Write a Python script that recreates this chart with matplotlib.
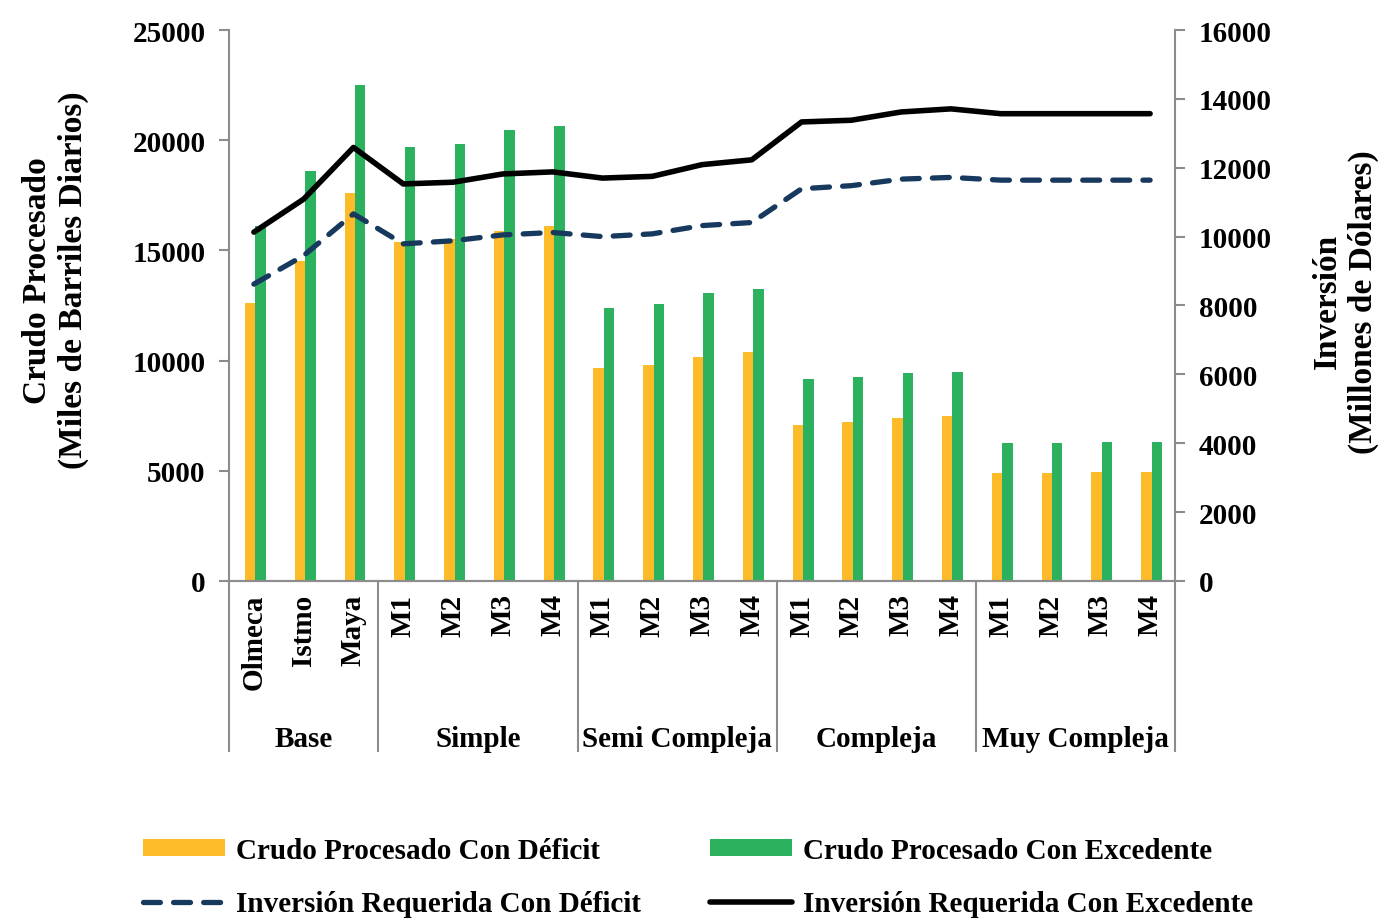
import matplotlib
matplotlib.use('Agg')
import matplotlib.pyplot as plt
import matplotlib.transforms as mtransforms
from matplotlib.lines import Line2D
from matplotlib.patches import Patch
import numpy as np

# categories and groups
categories = ['Olmeca', 'Istmo', 'Maya',
              'M1', 'M2', 'M3', 'M4',
              'M1', 'M2', 'M3', 'M4',
              'M1', 'M2', 'M3', 'M4',
              'M1', 'M2', 'M3', 'M4']
groups = ['Base', 'Simple', 'Semi Compleja', 'Compleja', 'Muy Compleja']
group_sizes = [3, 4, 4, 4, 4]

# left axis: crude processed (thousand barrels per day)
crudo_deficit = [12600, 14500, 17600, 15400, 15500, 15900, 16100,
                 9650, 9800, 10150, 10400, 7100, 7200, 7400, 7500,
                 4900, 4900, 4950, 4950]
crudo_excedente = [16100, 18600, 22500, 19700, 19850, 20450, 20650,
                   12400, 12550, 13050, 13250, 9150, 9250, 9450, 9500,
                   6250, 6250, 6300, 6300]

# right axis: investment (million dollars)
inv_deficit = [8620, 9450, 10660, 9790, 9880, 10050, 10120,
               10000, 10080, 10320, 10410, 11390, 11480, 11670, 11720,
               11640, 11640, 11640, 11640]
inv_excedente = [10130, 11090, 12590, 11530, 11580, 11820, 11880,
                 11700, 11750, 12090, 12230, 13330, 13380, 13620, 13710,
                 13570, 13570, 13570, 13570]

orange = '#FDBB2A'
green = '#2CB25F'
navy = '#18395E'
grey = '#8C8C8C'
fs = 21

plt.rcParams['font.family'] = 'Liberation Serif'
plt.rcParams['font.weight'] = 'bold'
plt.rcParams['font.size'] = fs

fig = plt.figure(figsize=(13.93, 9.2), dpi=100)
ax = fig.add_axes([0.1644, 0.3674, 0.6791, 0.5989])
ax2 = ax.twinx()

x = np.arange(len(categories))
w = 0.21
ax.bar(x - 0.075, crudo_deficit, w, color=orange, zorder=2)
ax.bar(x + 0.135, crudo_excedente, w, color=green, zorder=2)

ax2.plot(x, inv_deficit, color=navy, lw=3.8, linestyle=(0, (3.2, 2.5)),
         dash_capstyle='round', solid_joinstyle='round', zorder=3)
ax2.plot(x, inv_excedente, color='black', lw=4,
         solid_capstyle='round', solid_joinstyle='round', zorder=3)

ax.set_xlim(-0.5, len(categories) - 0.5)
ax.set_ylim(0, 25000)
ax2.set_ylim(0, 16000)
ax.set_yticks(range(0, 25001, 5000))
ax2.set_yticks(range(0, 16001, 2000))

for a in (ax, ax2):
    for s in a.spines.values():
        s.set_color(grey)
        s.set_linewidth(1.5)
    a.spines['top'].set_visible(False)
    a.tick_params(axis='y', colors=grey, length=7, width=1.5, pad=10,
                  labelcolor='black', labelsize=fs)
ax.spines['right'].set_visible(False)
ax2.spines['left'].set_visible(False)

ax.set_xticks(x)
ax.set_xticklabels(categories, rotation=90, va='top', ha='center')
ax.tick_params(axis='x', length=0, pad=9, labelsize=fs)

# group labels and separators under the axis
trans = mtransforms.blended_transform_factory(ax.transData, ax.transAxes)
edges = np.concatenate([[0], np.cumsum(group_sizes)]) - 0.5
for e in edges:
    ax.plot([e, e], [0, -0.3085], transform=trans, color=grey, lw=1.5,
            clip_on=False)
for g, lo, hi in zip(groups, edges[:-1], edges[1:]):
    ax.text((lo + hi) / 2, -0.285, g, transform=trans, ha='center',
            va='center', fontsize=fs)

fig.text(0.040, 0.695, 'Crudo Procesado\n(Miles de Barriles Diarios)',
         rotation=90, ha='center', va='center', multialignment='center',
         fontsize=24)
fig.text(0.966, 0.672, 'Inversión\n(Millones de Dólares)',
         rotation=90, ha='center', va='center', multialignment='center',
         fontsize=24)

h_or = Patch(facecolor=orange, edgecolor='none')
h_gr = Patch(facecolor=green, edgecolor='none')
h_dash = Line2D([], [], color=navy, lw=3.8, linestyle=(0, (3.2, 2.5)),
                dash_capstyle='round')
h_blk = Line2D([], [], color='black', lw=4, solid_capstyle='round')

leg_kw = dict(loc='upper left', frameon=False, borderaxespad=0, borderpad=0,
              handlelength=2.8, handleheight=0.5, handletextpad=0.4,
              labelspacing=0.9, fontsize=fs)
fig.legend([h_or, h_dash],
           ['Crudo Procesado Con Déficit', 'Inversión Requerida Con Déficit'],
           bbox_to_anchor=(143 / 1393, 1 - 838 / 920), **leg_kw)
fig.legend([h_gr, h_blk],
           ['Crudo Procesado Con Excedente', 'Inversión Requerida Con Excedente'],
           bbox_to_anchor=(710 / 1393, 1 - 838 / 920), **leg_kw)

fig.savefig('out.png', dpi=100)
